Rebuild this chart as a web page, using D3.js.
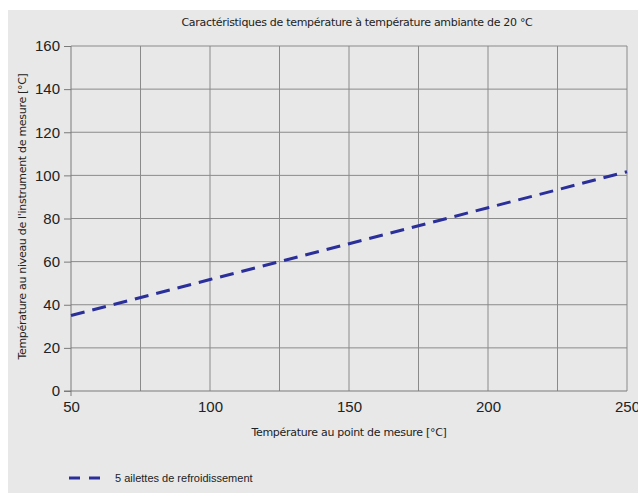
<!DOCTYPE html>
<html>
<head>
<meta charset="utf-8">
<script src="https://cdn.jsdelivr.net/npm/d3@7"></script>
<style>
  body { margin: 0; background: #fff; }
  svg { display: block; }
</style>
</head>
<body>
<div id="graph"></div>
<script>
// data
const xValues = [50, 100, 150, 200, 250];
const yValues = [35, 51.7, 68.3, 85, 101.7];
const xTicks = [50, 100, 150, 200, 250];
const xGrid = [75, 100, 125, 150, 175, 200, 225, 250];
const yTicks = [0, 20, 40, 60, 80, 100, 120, 140, 160];
const seriesName = "5 ailettes de refroidissement";

const W = 638, H = 493;
const margin = {top: 46, right: 11, bottom: 102, left: 71},
    width = W - margin.left - margin.right,
    height = H - margin.top - margin.bottom;

const svg = d3.select("#graph")
  .append("svg")
    .attr("width", W)
    .attr("height", H);

// grey panel
svg.append("rect")
  .attr("x", 8).attr("y", 10)
  .attr("width", W - 8).attr("height", H - 10)
  .attr("fill", "#e8e8e8");

const g = svg.append("g")
  .attr("transform", `translate(${margin.left},${margin.top})`);

const x = d3.scaleLinear().domain([50, 250]).range([0, width]);
const y = d3.scaleLinear().domain([0, 160]).range([height, 0]);

// grid
g.selectAll(".vgrid")
  .data(xGrid)
  .join("line")
    .attr("x1", d => x(d)).attr("x2", d => x(d))
    .attr("y1", 0).attr("y2", height)
    .attr("stroke", "#8a8a8a").attr("stroke-width", 1);

g.selectAll(".hgrid")
  .data(yTicks.filter(d => d > 0))
  .join("line")
    .attr("x1", 0).attr("x2", width)
    .attr("y1", d => y(d)).attr("y2", d => y(d))
    .attr("stroke", "#8a8a8a").attr("stroke-width", 1);

// axes
const xAxis = g.append("g")
  .attr("transform", `translate(0,${height})`)
  .call(d3.axisBottom(x).tickValues(xTicks).tickSize(0).tickPadding(10));
const yAxis = g.append("g")
  .call(d3.axisLeft(y).tickValues(yTicks).tickSize(7).tickPadding(4));

[xAxis, yAxis].forEach(a => {
  a.selectAll("path, line").attr("stroke", "#7a7a7a");
  a.selectAll("text")
    .attr("fill", "#222")
    .style("font-family", "'Liberation Sans', Arial, sans-serif")
    .style("font-size", "15px");
});
yAxis.select(".domain").attr("d", `M0,${height}V0`);
xAxis.select(".domain").attr("d", `M-7,0H${width}`);
// small tick at left end of x axis
xAxis.selectAll(".tick line").remove();
g.append("line")
  .attr("x1", 0).attr("x2", 0).attr("y1", height).attr("y2", height + 5)
  .attr("stroke", "#7a7a7a");

// line
const line = d3.line()
  .x((d, i) => x(xValues[i]))
  .y(d => y(d));

g.append("path")
  .datum(yValues)
  .attr("d", line)
  .attr("fill", "none")
  .attr("stroke", "#2b2f9a")
  .attr("stroke-width", 3)
  .attr("stroke-dasharray", "14,8");

// titles
const labelFont = "'DejaVu Sans', Verdana, sans-serif";
svg.append("text")
  .attr("x", 357).attr("y", 26)
  .attr("text-anchor", "middle")
  .style("font-family", labelFont)
  .style("font-size", "11px")
  .style("letter-spacing", "-0.3px")
  .attr("fill", "#222")
  .text("Caractéristiques de température à température ambiante de 20 °C");

svg.append("text")
  .attr("x", 349).attr("y", 436)
  .attr("text-anchor", "middle")
  .style("font-family", labelFont)
  .style("font-size", "11px")
  .style("letter-spacing", "-0.3px")
  .attr("fill", "#222")
  .text("Température au point de mesure [°C]");

svg.append("text")
  .attr("transform", `translate(26,${margin.top + height / 2 - 2}) rotate(-90)`)
  .attr("text-anchor", "middle")
  .style("font-family", labelFont)
  .style("font-size", "11px")
  .style("letter-spacing", "-0.3px")
  .attr("fill", "#222")
  .text("Température au niveau de l'instrument de mesure [°C]");

// legend
svg.append("line")
  .attr("x1", 69).attr("x2", 101).attr("y1", 478).attr("y2", 478)
  .attr("stroke", "#2b2f9a")
  .attr("stroke-width", 3)
  .attr("stroke-dasharray", "11,9");
svg.append("text")
  .attr("x", 115).attr("y", 482)
  .style("font-family", "'Liberation Sans', Arial, sans-serif")
  .style("font-size", "11px")
  .attr("fill", "#222")
  .text(seriesName);
</script>
</body>
</html>
